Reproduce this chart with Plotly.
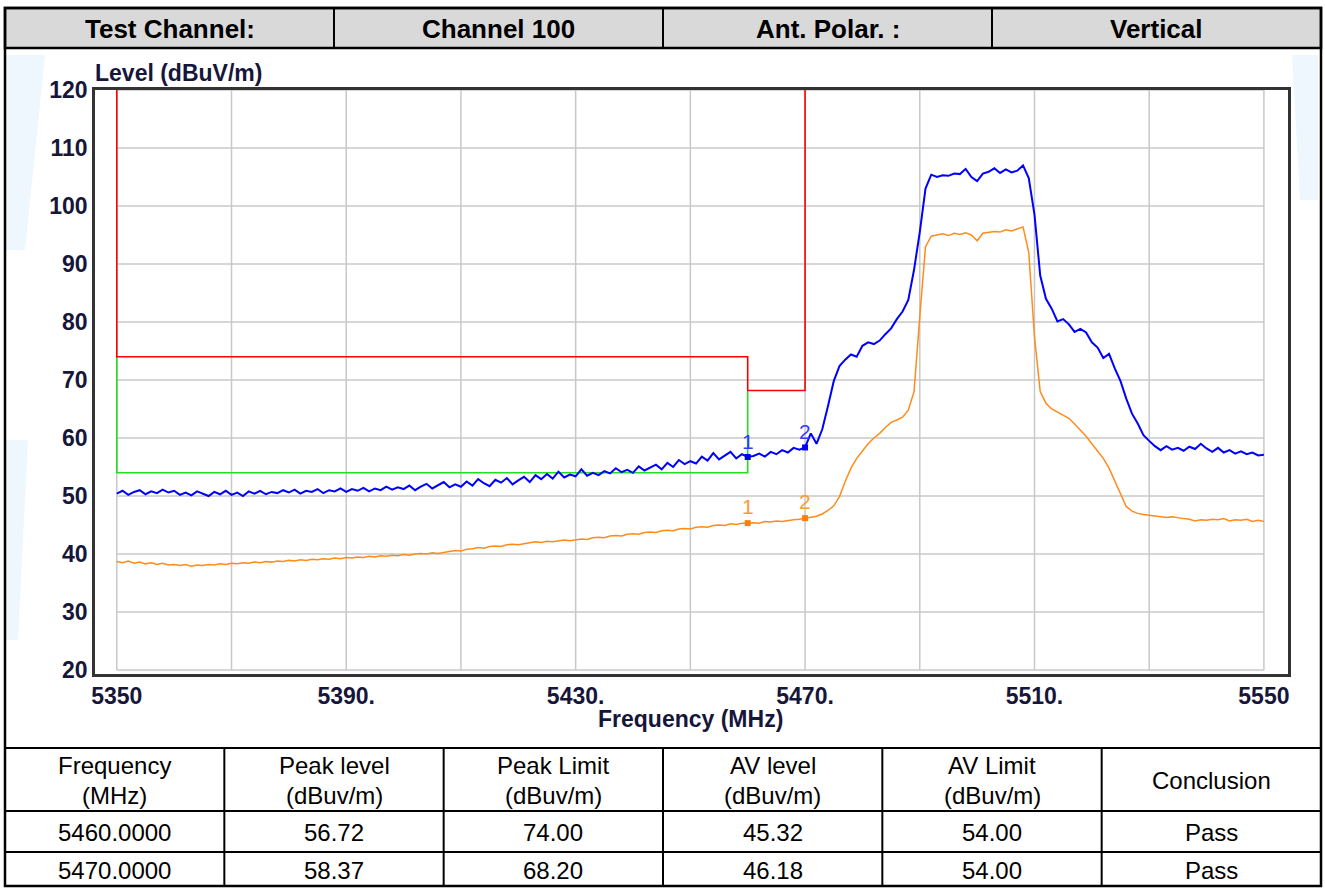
import plotly.graph_objects as go

W, H = 1325, 889

# ---------------- data ----------------
freq_start = 5350
peak_level_trace = [
    50.4, 50.9, 50.2, 50.7, 51.0, 50.3, 50.8, 50.5, 51.1, 50.6,
    50.9, 50.2, 50.6, 50.1, 50.8, 50.4, 50.0, 50.7, 50.3, 50.9,
    50.2, 50.6, 50.0, 50.8, 50.4, 50.9, 50.3, 50.7, 50.5, 51.0,
    50.6, 51.1, 50.4, 50.9, 50.7, 51.2, 50.5, 51.0, 50.8, 51.3,
    50.7, 51.2, 50.9, 51.4, 50.8, 51.3, 51.0, 51.6, 51.1, 51.5,
    51.2, 51.8, 51.0, 51.6, 52.1, 51.3, 51.9, 52.4, 51.5, 52.0,
    51.6, 52.5, 51.8, 52.9, 52.2, 51.7, 52.8, 52.3, 53.1, 52.0,
    52.7, 53.3, 52.4, 53.6, 52.9, 53.8, 53.0, 54.2, 53.2, 53.7,
    53.4, 54.6, 53.5, 54.0, 53.6, 54.3, 53.9, 54.8, 54.1, 54.5,
    54.0, 55.1, 54.4, 54.9, 55.4, 54.6, 55.7, 55.0, 56.2, 55.5,
    56.0, 55.6, 56.8, 56.1, 57.4, 56.3, 56.9, 57.6, 56.5, 57.2,
    56.72, 56.9, 57.3, 56.8, 57.6, 57.2, 57.9, 57.5, 58.3, 58.0,
    58.37, 60.8, 59.0, 61.5, 65.5, 69.8, 72.4, 73.5, 74.4, 74.0,
    75.9, 76.5, 76.2, 76.8, 77.9, 78.9, 80.5, 81.8, 83.8, 89.0,
    95.5, 103.0, 105.4, 105.0, 105.3, 105.2, 105.6, 105.5, 106.4, 105.0,
    104.3, 105.6, 105.9, 106.5, 105.7, 106.3, 105.8, 106.1, 107.0, 104.8,
    98.5, 88.0, 84.0, 82.3, 80.1, 80.5, 79.6, 78.3, 78.8, 78.2,
    76.5, 75.6, 73.8, 74.5, 72.0, 69.8, 66.8, 64.2, 62.5, 60.5,
    59.5, 58.6, 57.9, 58.6, 58.0, 58.3, 57.8, 58.5, 58.1, 59.0,
    58.2, 57.6, 58.3, 57.5, 57.9, 57.3, 57.7, 57.2, 57.5, 57.0,
    57.1,
]
av_level_trace = [
    38.7, 38.5, 38.8, 38.4, 38.6, 38.3, 38.5, 38.2, 38.4, 38.1,
    38.2, 38.0, 38.2, 37.9, 38.1, 38.0, 38.2, 38.1, 38.3, 38.2,
    38.4, 38.3, 38.5, 38.4, 38.6, 38.5, 38.7, 38.6, 38.8, 38.7,
    38.9, 38.8, 39.0, 38.9, 39.1, 39.0, 39.2, 39.1, 39.3, 39.2,
    39.4, 39.3, 39.5, 39.4, 39.6, 39.5, 39.7, 39.6, 39.8, 39.7,
    39.9, 39.8, 40.0, 40.1, 40.0, 40.2, 40.1, 40.3, 40.4, 40.6,
    40.5, 40.8, 40.9, 41.1, 41.0, 41.3, 41.4, 41.3, 41.6, 41.7,
    41.6, 41.8, 41.9, 42.1, 42.0, 42.2, 42.1, 42.3, 42.4, 42.3,
    42.5, 42.6, 42.5, 42.8, 42.9, 42.8, 43.1, 43.2, 43.1, 43.4,
    43.5, 43.4, 43.7, 43.8, 43.7, 44.0, 44.1, 44.0, 44.3, 44.4,
    44.3, 44.6, 44.7, 44.6, 44.9, 45.0, 44.9, 45.2, 45.1, 45.3,
    45.32, 45.4, 45.3, 45.6, 45.5, 45.7, 45.6, 45.8, 45.9, 46.0,
    46.18, 46.3, 46.5, 46.9, 47.5, 48.3, 49.9, 52.5, 54.8, 56.5,
    57.8, 59.0, 60.0, 60.8, 61.8, 62.7, 63.1, 63.6, 64.8, 68.0,
    80.9, 93.0, 94.8, 95.0, 95.2, 94.9, 95.3, 95.1, 95.4, 95.0,
    94.0, 95.3, 95.4, 95.6, 95.5, 95.9, 95.7, 96.0, 96.4, 92.0,
    77.5, 68.0, 66.0, 65.0, 64.5, 64.0, 63.4, 62.4, 61.4, 60.3,
    59.0, 57.8, 56.5, 54.8, 52.6, 50.3, 48.2, 47.4, 47.0, 46.8,
    46.7, 46.6, 46.5, 46.3, 46.4, 46.2, 46.1, 46.0, 45.7, 45.9,
    45.8, 46.0, 45.9, 46.1, 45.7, 45.9, 45.8, 46.0, 45.6, 45.8,
    45.6,
]
trace_freq = [freq_start + i for i in range(len(peak_level_trace))]

peak_limit_freq = [5350, 5350, 5460, 5460, 5470, 5470]
peak_limit_level = [120, 74.0, 74.0, 68.2, 68.2, 120]
av_limit_freq = [5350, 5350, 5460, 5460]
av_limit_level = [74.0, 54.0, 54.0, 68.2]

marker_freq = [5460.0, 5470.0]
marker_peak = [56.72, 58.37]
marker_peak_limit = [74.00, 68.20]
marker_av = [45.32, 46.18]
marker_av_limit = [54.00, 54.00]
marker_result = ["Pass", "Pass"]
marker_ids = ["1", "2"]

x_tickvals = [5350, 5390, 5430, 5470, 5510, 5550]
x_ticktext = ["5350", "5390.", "5430.", "5470.", "5510.", "5550"]
y_tickvals = [20, 30, 40, 50, 60, 70, 80, 90, 100, 110, 120]

header_cells = ["Test Channel:", "Channel 100", "Ant. Polar. :", "Vertical"]
table_head_l1 = ["Frequency", "Peak level", "Peak Limit", "AV level", "AV Limit", ""]
table_head_l2 = ["(MHz)", "(dBuv/m)", "(dBuv/m)", "(dBuv/m)", "(dBuv/m)", ""]

# ---------------- helpers ----------------
def X(px):
    return px / W

def Y(py):
    return 1 - py / H

FONT = "Arial, 'Liberation Sans', sans-serif"
AXC = "#16163a"

fig = go.Figure()

# grid lines (inner region only)
shapes = []
for gx in range(5350, 5551, 20):
    shapes.append(dict(type="line", xref="x", yref="y", x0=gx, x1=gx, y0=20, y1=120,
                       line=dict(color="#c8c8c8", width=1.5), layer="below"))
for gy in y_tickvals:
    shapes.append(dict(type="line", xref="x", yref="y", x0=5350, x1=5550, y0=gy, y1=gy,
                       line=dict(color="#c8c8c8", width=1.5), layer="below"))

# faint watermark tints in margins
wm = "#eef7fd"
shapes.append(dict(type="path", xref="paper", yref="paper", layer="below",
                   path=f"M {X(5)},{Y(55)} L {X(45)},{Y(55)} L {X(25)},{Y(250)} L {X(5)},{Y(250)} Z",
                   fillcolor=wm, line=dict(width=0)))
shapes.append(dict(type="path", xref="paper", yref="paper", layer="below",
                   path=f"M {X(5)},{Y(440)} L {X(28)},{Y(440)} L {X(18)},{Y(640)} L {X(5)},{Y(640)} Z",
                   fillcolor=wm, line=dict(width=0)))
shapes.append(dict(type="path", xref="paper", yref="paper", layer="below",
                   path=f"M {X(1292)},{Y(55)} L {X(1318)},{Y(55)} L {X(1318)},{Y(200)} L {X(1300)},{Y(200)} Z",
                   fillcolor=wm, line=dict(width=0)))

# header band
shapes.append(dict(type="rect", xref="paper", yref="paper", x0=X(5), x1=X(1321), y0=Y(48), y1=Y(8),
                   fillcolor="#d9d9d9", line=dict(color="black", width=2.5), layer="below"))
col_w = (1321 - 5) / 4
for i in range(1, 4):
    xx = 5 + i * col_w
    shapes.append(dict(type="line", xref="paper", yref="paper", x0=X(xx), x1=X(xx), y0=Y(8), y1=Y(48),
                       line=dict(color="black", width=2)))
# outer border
shapes.append(dict(type="rect", xref="paper", yref="paper", x0=X(5), x1=X(1321), y0=Y(886), y1=Y(8),
                   line=dict(color="black", width=2.5)))
# table lines
for ty in [748, 811, 852]:
    shapes.append(dict(type="line", xref="paper", yref="paper", x0=X(5), x1=X(1321), y0=Y(ty), y1=Y(ty),
                       line=dict(color="black", width=2)))
tcol_w = (1321 - 5) / 6
for i in range(1, 6):
    xx = 5 + i * tcol_w
    shapes.append(dict(type="line", xref="paper", yref="paper", x0=X(xx), x1=X(xx), y0=Y(748), y1=Y(886),
                       line=dict(color="black", width=2)))

# ---------------- traces ----------------
fig.add_trace(go.Scatter(x=av_limit_freq, y=av_limit_level, mode="lines",
                         line=dict(color="#22dd22", width=1.6), hoverinfo="skip"))
fig.add_trace(go.Scatter(x=peak_limit_freq, y=peak_limit_level, mode="lines",
                         line=dict(color="#ff0000", width=1.6), hoverinfo="skip"))
fig.add_trace(go.Scatter(x=trace_freq, y=av_level_trace, mode="lines",
                         line=dict(color="#ff8c1a", width=1.5), hoverinfo="skip"))
fig.add_trace(go.Scatter(x=trace_freq, y=peak_level_trace, mode="lines",
                         line=dict(color="#0000ff", width=2), hoverinfo="skip"))
fig.add_trace(go.Scatter(x=marker_freq, y=marker_av, mode="markers",
                         marker=dict(symbol="square", size=6, color="#ff8000"), hoverinfo="skip"))
fig.add_trace(go.Scatter(x=marker_freq, y=marker_peak, mode="markers",
                         marker=dict(symbol="square", size=6, color="#0000ee"), hoverinfo="skip"))

annotations = []
for f, v, lab in zip(marker_freq, marker_peak, marker_ids):
    annotations.append(dict(x=f, y=v, xref="x", yref="y", text=lab, showarrow=False, yshift=16,
                            font=dict(family=FONT, size=21, color="#3a3aff")))
for f, v, lab in zip(marker_freq, marker_av, marker_ids):
    annotations.append(dict(x=f, y=v, xref="x", yref="y", text=lab, showarrow=False, yshift=17,
                            font=dict(family=FONT, size=21, color="#ff9a33")))

# axis titles
annotations.append(dict(x=X(93), y=Y(73), xref="paper", yref="paper", xanchor="left", yanchor="middle",
                        text="Level (dBuV/m)", showarrow=False,
                        font=dict(family=FONT, size=23, color=AXC, weight="bold")))
annotations.append(dict(x=X(690), y=Y(719), xref="paper", yref="paper", xanchor="center", yanchor="middle",
                        text="Frequency (MHz)", showarrow=False,
                        font=dict(family=FONT, size=23, color=AXC, weight="bold")))

# header text
for i, t in enumerate(header_cells):
    cx = 5 + (i + 0.5) * col_w
    annotations.append(dict(x=X(cx), y=Y(29), xref="paper", yref="paper", xanchor="center", yanchor="middle",
                            text=t, showarrow=False,
                            font=dict(family=FONT, size=26, color="black", weight="bold")))

# table text
for i in range(6):
    cx = 5 + (i + 0.5) * tcol_w
    if table_head_l1[i]:
        annotations.append(dict(x=X(cx), y=Y(765), xref="paper", yref="paper", xanchor="center", yanchor="middle",
                                text=table_head_l1[i], showarrow=False,
                                font=dict(family=FONT, size=24, color="black")))
        annotations.append(dict(x=X(cx), y=Y(795), xref="paper", yref="paper", xanchor="center", yanchor="middle",
                                text=table_head_l2[i], showarrow=False,
                                font=dict(family=FONT, size=24, color="black")))
    else:
        annotations.append(dict(x=X(cx), y=Y(780), xref="paper", yref="paper", xanchor="center", yanchor="middle",
                                text="Conclusion", showarrow=False,
                                font=dict(family=FONT, size=24, color="black")))

row_y = [832, 870]
for r in range(2):
    vals = [f"{marker_freq[r]:.4f}", f"{marker_peak[r]:.2f}", f"{marker_peak_limit[r]:.2f}",
            f"{marker_av[r]:.2f}", f"{marker_av_limit[r]:.2f}", marker_result[r]]
    for i, v in enumerate(vals):
        cx = 5 + (i + 0.5) * tcol_w
        annotations.append(dict(x=X(cx), y=Y(row_y[r]), xref="paper", yref="paper", xanchor="center",
                                yanchor="middle", text=v, showarrow=False,
                                font=dict(family=FONT, size=24, color="black")))

fig.update_layout(
    width=W, height=H, margin=dict(l=0, r=0, t=0, b=0),
    paper_bgcolor="white", plot_bgcolor="white", showlegend=False,
    shapes=shapes, annotations=annotations,
    xaxis=dict(domain=[X(95), X(1288)], range=[5346.2, 5554.2], showgrid=False, zeroline=False,
               showline=True, mirror=True, linecolor="#333333", linewidth=2.5, ticks="",
               tickvals=x_tickvals, ticktext=x_ticktext, automargin=False,
               tickfont=dict(family=FONT, size=23, color=AXC, weight="bold")),
    yaxis=dict(domain=[Y(674), Y(90)], range=[19.31, 120], showgrid=False, zeroline=False,
               showline=True, mirror=True, linecolor="#333333", linewidth=2.5, ticks="",
               tickvals=y_tickvals, automargin=False,
               tickfont=dict(family=FONT, size=23, color=AXC, weight="bold")),
)

fig.write_html("out.html", config={"displayModeBar": False},
               post_script="document.body.style.margin='0';document.body.style.overflow='hidden';")
